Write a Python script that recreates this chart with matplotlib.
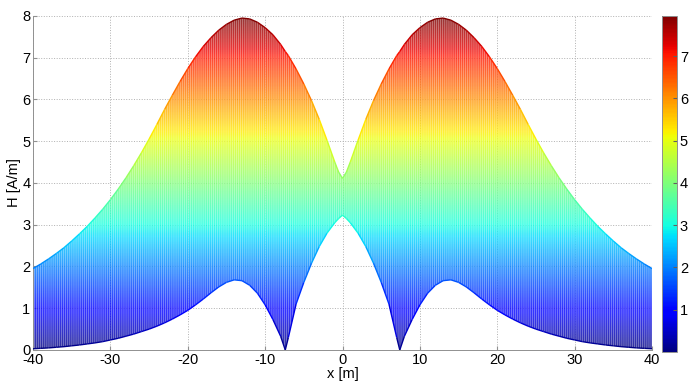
import numpy as np
import matplotlib
matplotlib.use("Agg")
import matplotlib.pyplot as plt
from matplotlib.collections import LineCollection
from matplotlib.colors import Normalize
from matplotlib.cm import ScalarMappable

plt.rcParams["font.family"] = ["Liberation Sans", "DejaVu Sans"]
plt.rcParams["axes.unicode_minus"] = False
plt.rcParams["hatch.color"] = "white"
plt.rcParams["hatch.linewidth"] = 0.45

# left half of the field envelope (the chart is symmetric about x = 0)
x_half = [-40, -39, -38, -37, -36, -35, -34, -33, -32, -31, -30, -29, -28, -27, -26, -25,
          -24, -23, -22, -21, -20, -19, -18, -17, -16, -15, -14, -13, -12, -11, -10, -9,
          -8, -7.4, -7, -6, -5, -4, -3, -2, -1, -0.5, 0]
upper_half = [1.95, 2.06, 2.18, 2.31, 2.45, 2.61, 2.78, 2.96, 3.16, 3.37, 3.6, 3.85, 4.12, 4.41, 4.72, 5.05,
              5.4, 5.76, 6.1, 6.43, 6.74, 7.02, 7.27, 7.48, 7.66, 7.8, 7.9, 7.95, 7.93, 7.85, 7.72, 7.55,
              7.32, 7.15, 7.05, 6.73, 6.37, 5.97, 5.52, 5.02, 4.5, 4.26, 4.11]
lower_half = [0.03, 0.04, 0.05, 0.065, 0.08, 0.1, 0.12, 0.145, 0.17, 0.2, 0.24, 0.28, 0.33, 0.38, 0.44, 0.5,
              0.57, 0.65, 0.74, 0.84, 0.95, 1.08, 1.22, 1.37, 1.51, 1.62, 1.68, 1.66, 1.55, 1.36, 1.08, 0.73,
              0.33, 0.0, 0.3, 1.1, 1.62, 2.08, 2.48, 2.8, 3.05, 3.15, 3.23]
x_ticks = [-40, -30, -20, -10, 0, 10, 20, 30, 40]
y_ticks = [0, 1, 2, 3, 4, 5, 6, 7, 8]
cbar_ticks = [1, 2, 3, 4, 5, 6, 7]

xh = np.array(x_half)
x = np.concatenate([xh, -xh[-2::-1]])
upper = np.concatenate([upper_half, upper_half[-2::-1]])
lower = np.concatenate([lower_half, lower_half[-2::-1]])

hmax = upper.max()
norm = Normalize(0, hmax)
cmap = plt.get_cmap("jet")

fig = plt.figure(figsize=(6.94, 3.89), dpi=100)
ax = fig.add_axes([0.0476, 0.1003, 0.8919, 0.8586])

# colour by value, clipped to the band between the envelopes
band = ax.fill_between(x, lower, upper, facecolor="none", edgecolor="none")
grad = np.linspace(0, hmax, 400).reshape(-1, 1)
im = ax.imshow(grad, cmap=cmap, norm=norm, origin="lower", aspect="auto", alpha=0.8,
               extent=[x.min(), x.max(), 0, hmax], interpolation="bilinear", zorder=2)
im.set_clip_path(band.get_paths()[0], transform=ax.transData)

# fine mesh texture
ax.fill_between(x, lower, upper, facecolor="none", edgecolor="white", linewidth=0,
                hatch="|" * 8, alpha=0.5, zorder=3)

for env in (upper, lower):
    pts = np.column_stack([x, env]).reshape(-1, 1, 2)
    segs = np.concatenate([pts[:-1], pts[1:]], axis=1)
    lc = LineCollection(segs, colors=cmap(norm((env[:-1] + env[1:]) / 2)), linewidths=1.0, zorder=4)
    ax.add_collection(lc)

ax.set_xlim(-40, 40)
ax.set_ylim(0, 8)
ax.set_xticks(x_ticks)
ax.set_yticks(y_ticks)
ax.grid(True, linestyle=":", color="#b0b0b0", linewidth=0.7)
ax.set_axisbelow(True)
for s in ("top", "right"):
    ax.spines[s].set_visible(False)
for s in ("left", "bottom"):
    ax.spines[s].set_color("#909090")
    ax.spines[s].set_linewidth(0.7)
ax.tick_params(direction="in", length=3, color="#909090", labelsize=10.5, pad=2)
ax.set_xlabel("x [m]", fontsize=10.5, labelpad=0)
ax.set_ylabel("H [A/m]", fontsize=10.5, labelpad=1)

cax = fig.add_axes([0.9539, 0.0951, 0.0216, 0.8638])
cb = fig.colorbar(ScalarMappable(norm=norm, cmap=cmap), cax=cax, ticks=cbar_ticks)
cb.outline.set_edgecolor("#909090")
cb.outline.set_linewidth(0.7)
cax.tick_params(direction="in", length=3, color="#606060", labelsize=10.5, pad=2)

fig.savefig("out.png", dpi=100)
